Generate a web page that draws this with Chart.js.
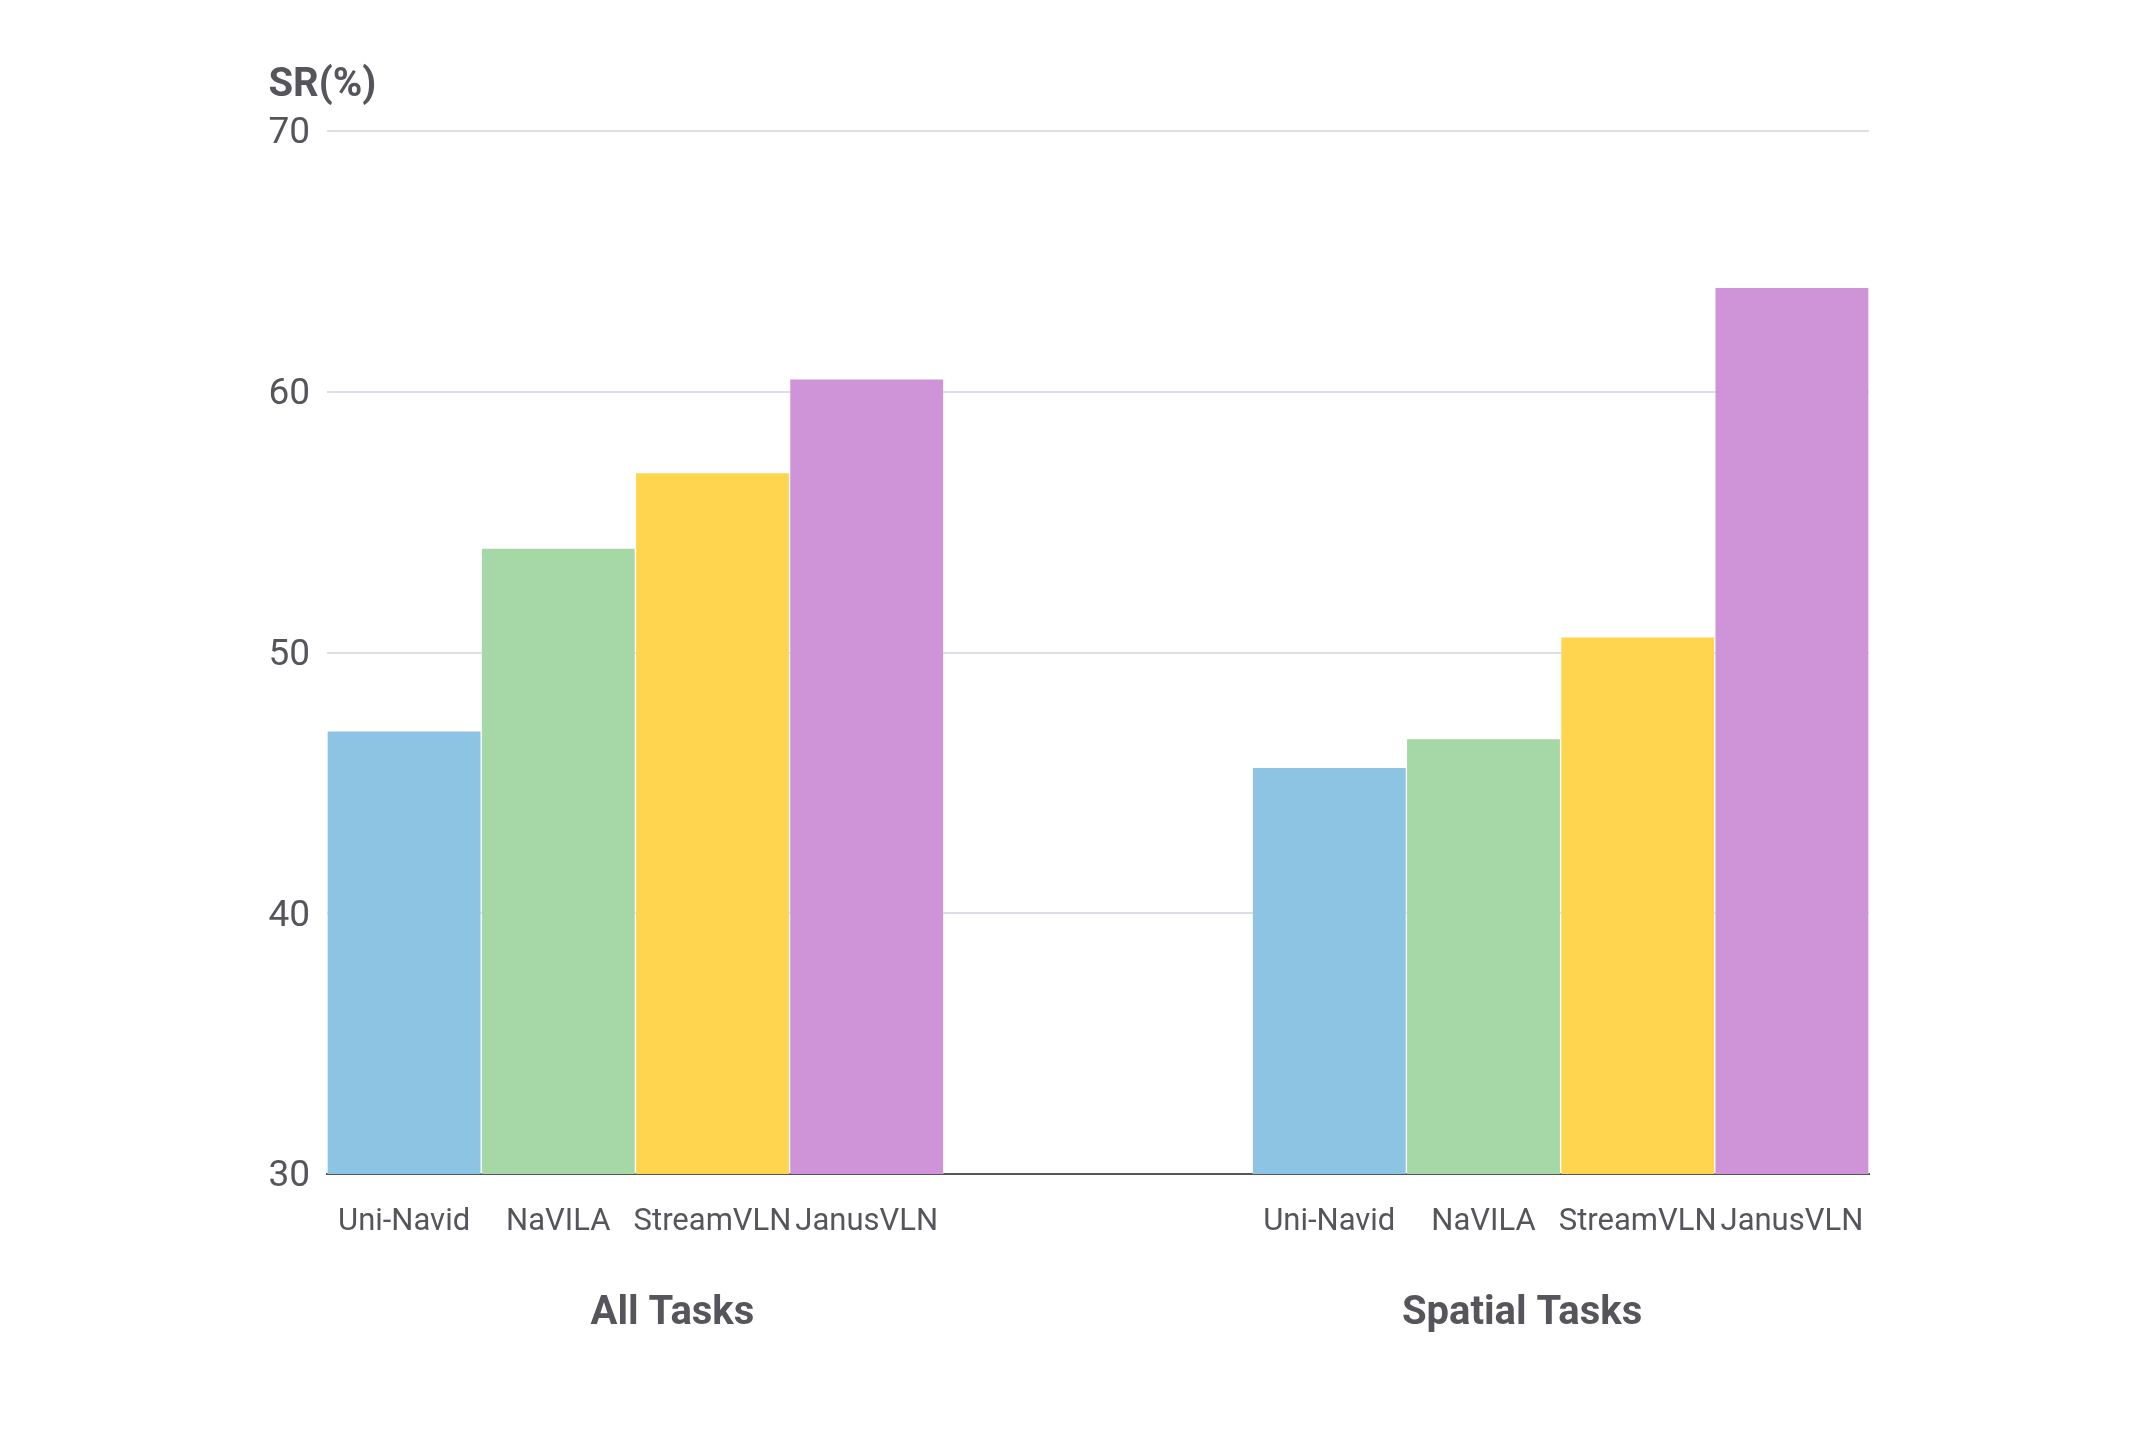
<!DOCTYPE html>
<html>
<head>
<meta charset="utf-8">
<script src="https://cdn.jsdelivr.net/npm/chart.js@4"></script>
<style>
  html, body { margin: 0; padding: 0; background: #ffffff; }
  #c { display: block; }
</style>
</head>
<body>
<canvas id="c" width="2136" height="1430"></canvas>
<script>
// ---- data ----
const groups = ['All Tasks', 'Spatial Tasks'];
const models = ['Uni-Navid', 'NaVILA', 'StreamVLN', 'JanusVLN'];
const allTasks = [47.0, 54.0, 56.9, 60.5];
const spatialTasks = [45.6, 46.7, 50.6, 64.0];
const yTicks = [30, 40, 50, 60, 70];
const yTitle = 'SR(%)';

// ---- styles ----
const modelColors = ['#8ec4e3', '#a6d7a6', '#ffd550', '#cf94d8'];
const textColor = '#55555b';
const fontFamily = 'Roboto, "Noto Sans", "Liberation Sans", sans-serif';
const tickPad = 17;

// build slot-based category table (gap of two empty slots between groups)
const labels = [...models, '', '', ...models];
const values = [...allTasks, null, null, ...spatialTasks];
const colors = [...modelColors, 'rgba(0,0,0,0)', 'rgba(0,0,0,0)', ...modelColors];

const groupLabelPlugin = {
  id: 'groupLabels',
  afterDraw(chart) {
    const { ctx, chartArea } = chart;
    const w = chartArea.right - chartArea.left;
    ctx.save();
    ctx.fillStyle = textColor;
    // group labels
    ctx.font = 'bold 40px ' + fontFamily;
    ctx.textAlign = 'center';
    ctx.textBaseline = 'middle';
    const fr = [0.224, 0.775];
    groups.forEach((g, i) => {
      ctx.fillText(g, chartArea.left + w * fr[i], chartArea.bottom + 140);
    });
    // y title
    ctx.font = '37px ' + fontFamily;
    const tw = ctx.measureText(String(yTicks[yTicks.length - 1])).width;
    ctx.font = 'bold 40px ' + fontFamily;
    ctx.textAlign = 'left';
    ctx.fillText(yTitle, chartArea.left - tickPad - tw, chartArea.top - 45);
    ctx.restore();
  }
};

new Chart(document.getElementById('c'), {
  type: 'bar',
  data: {
    labels: labels,
    datasets: [{
      data: values,
      backgroundColor: colors,
      borderColor: 'rgba(255,255,255,0.25)',
      borderWidth: 1,
      borderSkipped: 'bottom',
      categoryPercentage: 1.0,
      barPercentage: 1.0
    }]
  },
  options: {
    responsive: false,
    animation: false,
    devicePixelRatio: 1,
    layout: { padding: { left: 0, right: 267, top: 131, bottom: 0 } },
    plugins: {
      legend: { display: false },
      tooltip: { enabled: false },
      title: { display: false }
    },
    scales: {
      x: {
        type: 'category',
        offset: true,
        grid: { display: false, drawTicks: false },
        border: { display: true, color: '#55555b', width: 2 },
        ticks: {
          autoSkip: false,
          maxRotation: 0,
          minRotation: 0,
          padding: 30,
          color: textColor,
          font: { family: fontFamily, size: 31 }
        },
        afterFit(scale) { scale.height = 256; }
      },
      y: {
        min: yTicks[0],
        max: yTicks[yTicks.length - 1],
        afterBuildTicks(scale) { scale.ticks = yTicks.map(v => ({ value: v })); },
        grid: {
          drawTicks: false,
          lineWidth: 2,
          color: (c) => (c.tick && c.tick.value === yTicks[0]) ? 'rgba(0,0,0,0)' : '#dcdde6'
        },
        border: { display: false },
        ticks: {
          padding: tickPad,
          labelOffset: 3,
          color: textColor,
          font: { family: fontFamily, size: 37 }
        },
        afterFit(scale) { scale.width = 327; }
      }
    }
  },
  plugins: [groupLabelPlugin]
});
</script>
</body>
</html>
